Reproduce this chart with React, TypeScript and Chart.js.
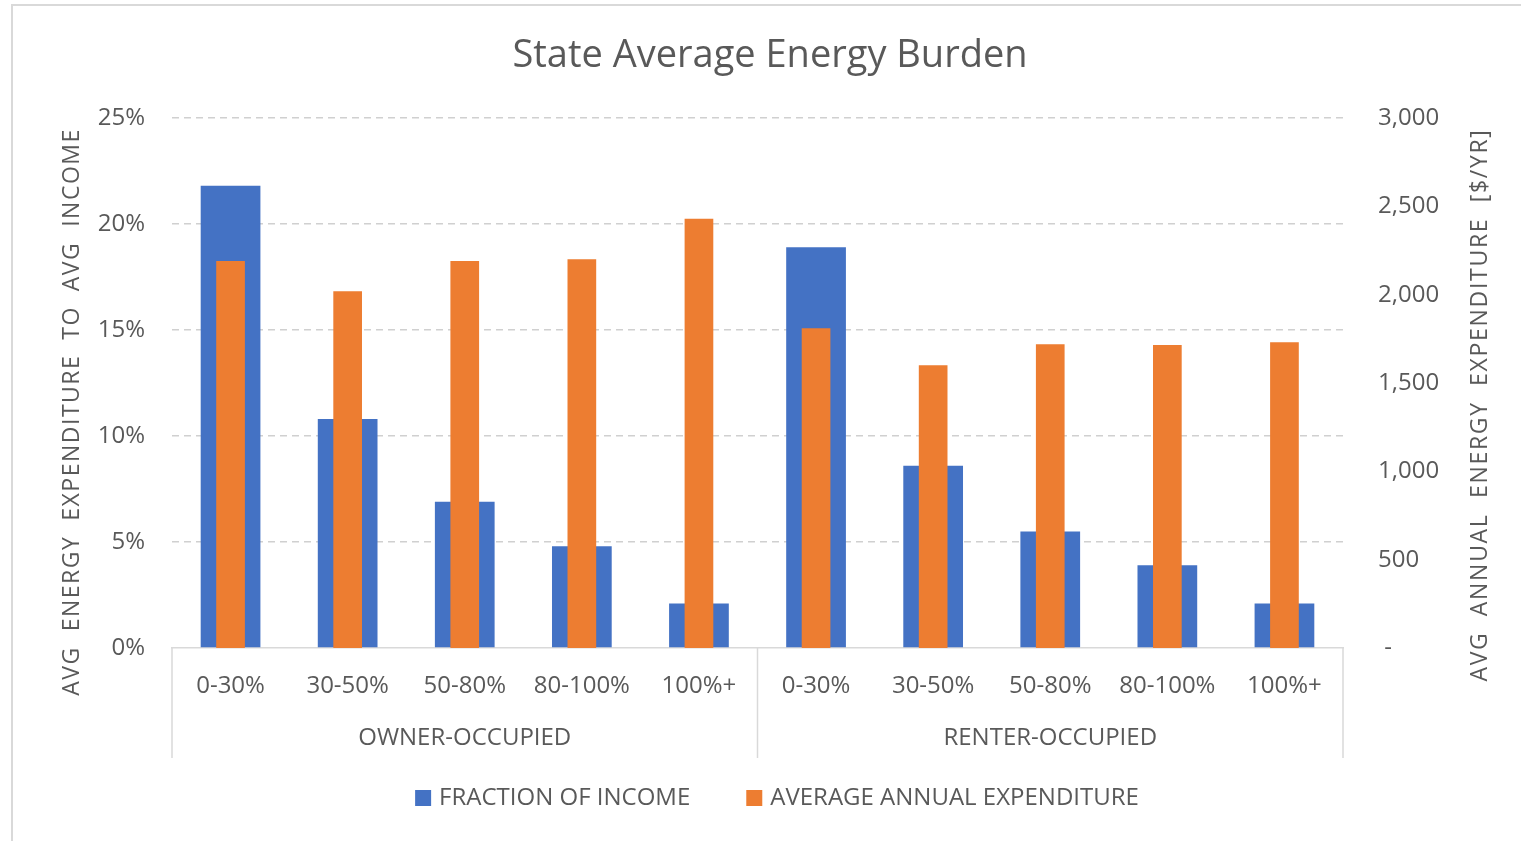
import React, { useEffect, useRef } from "react";
import { Chart, registerables } from "chart.js";

Chart.register(...registerables);

const chartTitle = "State Average Energy Burden";
const categories = ["0-30%", "30-50%", "50-80%", "80-100%", "100%+", "0-30%", "30-50%", "50-80%", "80-100%", "100%+"];
const groups = ["OWNER-OCCUPIED", "RENTER-OCCUPIED"];
const groupSizes = [5, 5];
const seriesNames = ["FRACTION OF INCOME", "AVERAGE ANNUAL EXPENDITURE"];
const fractionOfIncome = [21.8, 10.8, 6.9, 4.8, 2.1, 18.9, 8.6, 5.5, 3.9, 2.1];
const annualExpenditure = [2190, 2020, 2190, 2200, 2430, 1810, 1600, 1720, 1715, 1730];
const leftAxisTitle = "AVG  ENERGY  EXPENDITURE  TO  AVG  INCOME";
const rightAxisTitle = "AVG  ANNUAL  ENERGY  EXPENDITURE  [$/YR]";

const FONT = "'Open Sans', sans-serif";
const GRAY = "#595959";
const LINE = "#d9d9d9";
const GRID = "#d0d0d0";
const BLUE = "#4472C4";
const ORANGE = "#ED7D31";

const decor = {
  id: "decor",
  beforeDraw(chart: any) {
    const ctx = chart.ctx;
    ctx.save();
    ctx.fillStyle = "#ffffff";
    ctx.fillRect(0, 0, chart.width, chart.height);
    ctx.strokeStyle = LINE;
    ctx.lineWidth = 2;
    ctx.strokeRect(12, 5, chart.width + 20, chart.height + 20);
    ctx.restore();
  },
  afterDraw(chart: any) {
    const { ctx, chartArea: a, scales } = chart;
    const x = scales.x;
    ctx.save();
    // group separators
    const seps: number[] = [a.left];
    let idx = 0;
    groupSizes.forEach((n, i) => {
      idx += n;
      if (i < groupSizes.length - 1) {
        seps.push((x.getPixelForValue(idx - 1) + x.getPixelForValue(idx)) / 2);
      }
    });
    seps.push(a.right);
    ctx.strokeStyle = LINE;
    ctx.lineWidth = 1.5;
    seps.forEach((s) => {
      ctx.beginPath();
      ctx.moveTo(s, a.bottom);
      ctx.lineTo(s, a.bottom + 110);
      ctx.stroke();
    });
    ctx.fillStyle = GRAY;
    ctx.textAlign = "center";
    ctx.textBaseline = "middle";
    ctx.font = `24px ${FONT}`;
    groups.forEach((g, i) => {
      ctx.fillText(g, (seps[i] + seps[i + 1]) / 2, a.bottom + 90);
    });
    // title
    ctx.font = `38px ${FONT}`;
    ctx.fillText(chartTitle, 770, 56);
    // axis titles
    ctx.font = `23px ${FONT}`;
    (ctx as any).letterSpacing = "1.5px";
    ctx.save();
    ctx.translate(72, 412);
    ctx.rotate(-Math.PI / 2);
    ctx.fillText(leftAxisTitle, 0, 0);
    ctx.restore();
    ctx.save();
    (ctx as any).letterSpacing = "1.7px";
    ctx.translate(1480, 405);
    ctx.rotate(-Math.PI / 2);
    ctx.fillText(rightAxisTitle, 0, 0);
    ctx.restore();
    (ctx as any).letterSpacing = "0px";
    // legend
    ctx.font = `24px ${FONT}`;
    ctx.textAlign = "left";
    const box = 16;
    const gapBoxText = 8;
    const gapItems = 56;
    const widths = seriesNames.map((s) => ctx.measureText(s).width);
    const total = widths.reduce((p, w) => p + box + gapBoxText + w, 0) + gapItems * (seriesNames.length - 1);
    let lx = 777 - total / 2;
    const ly = 798;
    const colors = [BLUE, ORANGE];
    seriesNames.forEach((s, i) => {
      ctx.fillStyle = colors[i];
      ctx.fillRect(lx, ly - box / 2, box, box);
      ctx.fillStyle = GRAY;
      ctx.fillText(s, lx + box + gapBoxText, ly);
      lx += box + gapBoxText + widths[i] + gapItems;
    });
    ctx.restore();
  },
};

export default function App() {
  const ref = useRef<HTMLCanvasElement>(null);
  useEffect(() => {
    const chart = new Chart(ref.current as HTMLCanvasElement, {
      type: "bar",
      data: {
        labels: categories,
        datasets: [
          {
            label: seriesNames[0],
            data: fractionOfIncome,
            backgroundColor: BLUE,
            yAxisID: "y",
            grouped: false,
            barPercentage: 0.51,
            categoryPercentage: 1,
            order: 1,
          },
          {
            label: seriesNames[1],
            data: annualExpenditure,
            backgroundColor: ORANGE,
            yAxisID: "y1",
            grouped: false,
            barPercentage: 0.245,
            categoryPercentage: 1,
            order: 0,
          },
        ],
      },
      options: {
        responsive: false,
        animation: false,
        layout: { padding: { top: 118, bottom: 83, left: 0, right: 0 } },
        plugins: {
          legend: { display: false },
          title: { display: false },
          tooltip: { enabled: false },
        },
        scales: {
          x: {
            grid: { display: false },
            border: { display: true, color: LINE, width: 1.5 },
            ticks: {
              color: GRAY,
              font: { family: FONT, size: 24 },
              padding: 16,
              maxRotation: 0,
              autoSkip: false,
            },
            afterFit: (s: any) => {
              s.height = 110;
            },
          },
          y: {
            position: "left",
            min: 0,
            max: 25,
            ticks: {
              stepSize: 5,
              callback: (v: any) => v + "%",
              color: GRAY,
              font: { family: FONT, size: 24 },
              padding: 27,
            },
            grid: {
              color: (c: any) => (c.tick && c.tick.value === 0 ? "rgba(0,0,0,0)" : GRID),
              drawTicks: false,
              lineWidth: 1.4,
            },
            border: { display: false, dash: [7, 5] },
            afterFit: (s: any) => {
              s.width = 172;
            },
          },
          y1: {
            position: "right",
            min: 0,
            max: 3000,
            ticks: {
              stepSize: 500,
              callback: (v: any) => (v === 0 ? " -" : Number(v).toLocaleString("en-US")),
              color: GRAY,
              font: { family: FONT, size: 24 },
              padding: 35,
            },
            grid: { display: false, drawTicks: false },
            border: { display: false },
            afterFit: (s: any) => {
              s.width = 178;
            },
          },
        },
      },
      plugins: [decor],
    } as any);
    return () => chart.destroy();
  }, []);
  return (
    <div style={{ position: "fixed", left: 0, top: 0, width: 1521, height: 841, background: "#fff" }}>
      <canvas ref={ref} width={1521} height={841} style={{ display: "block" }} />
    </div>
  );
}
